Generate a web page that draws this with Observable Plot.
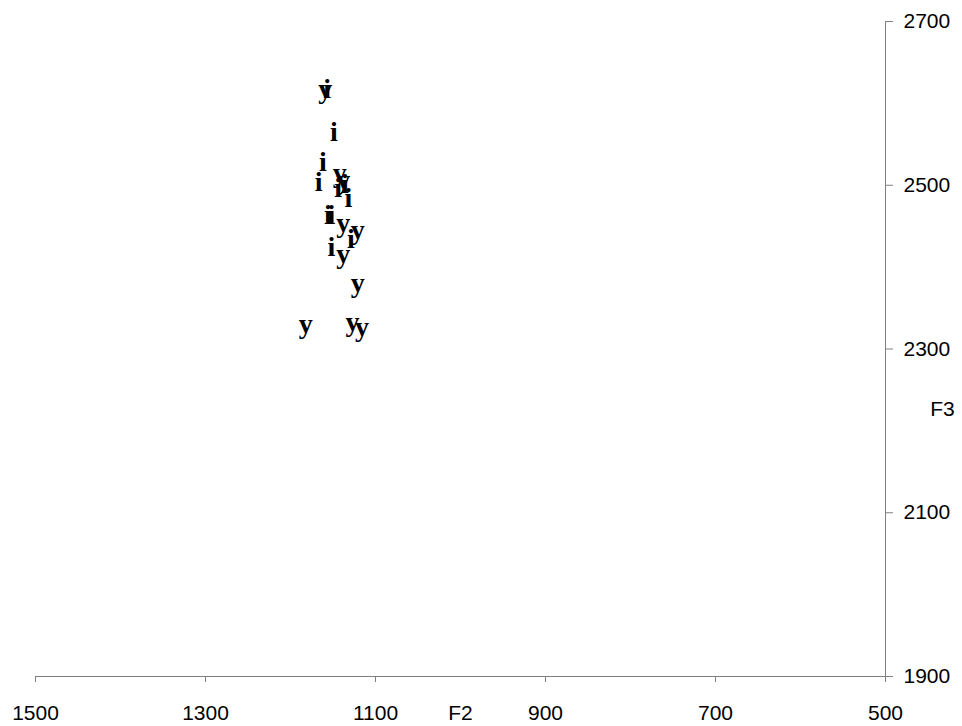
<!DOCTYPE html>
<html>
<head>
<meta charset="utf-8">
<script src="https://cdn.jsdelivr.net/npm/d3@7"></script>
<script src="https://cdn.jsdelivr.net/npm/@observablehq/plot@0.6"></script>
<style>
  html, body { margin: 0; padding: 0; background: #ffffff; }
</style>
</head>
<body>
<div id="chart"></div>
<script>
// Vowel tokens (label drawn at each point)
const vowels = ["y","i","i","i","i","y","y","i","i","i","i","i","y","y","i","i","y","y","y","y","y"];
// F2 (Hz)
const f2 = [1159,1157,1149,1162,1167,1142,1138,1144,1136,1132,1156,1152,1138,1121,1129,1152,1138,1121,1182,1127,1116];
// F3 (Hz)
const f3 = [2617,2618,2565,2528,2504,2515,2506,2496,2502,2485,2464,2464,2454,2445,2434,2424,2416,2380,2331,2333,2327];

const xTicks = [1500, 1300, 1100, 900, 700, 500];
const yTicks = [1900, 2100, 2300, 2500, 2700];
const xTitle = ["F2"];
const yTitle = ["F3"];

const data = vowels.map((v, i) => ({vowel: v, F2: f2[i], F3: f3[i]}));

const axisColor = "#808080";

const chart = Plot.plot({
  width: 962,
  height: 726,
  marginLeft: 35,
  marginRight: 77,
  marginTop: 21,
  marginBottom: 50,
  style: {fontFamily: "'Liberation Sans', Arial, sans-serif", fontSize: "21px", background: "#ffffff", color: "#000000"},
  x: {domain: [1500, 500]},
  y: {domain: [1900, 2700]},
  marks: [
    Plot.frame({anchor: "bottom", stroke: axisColor}),
    Plot.frame({anchor: "right", stroke: axisColor}),
    Plot.axisX(xTicks, {anchor: "bottom", tickSize: 6, tickPadding: 23, tickFormat: d => String(d), stroke: axisColor, fill: "#000", fontSize: 21, label: null}),
    Plot.axisY(yTicks, {anchor: "right", tickSize: 7, tickPadding: 11, tickFormat: d => String(d), stroke: axisColor, fill: "#000", fontSize: 21, label: null}),
    Plot.text(data, {x: "F2", y: "F3", text: "vowel", fontFamily: "'Liberation Serif', 'Times New Roman', serif", fontWeight: "bold", fontSize: 28, fill: "#000"}),
    Plot.text(xTitle, {text: d => d, frameAnchor: "bottom", textAnchor: "middle", lineAnchor: "middle", dy: 37, fontSize: 21, fill: "#000"}),
    Plot.text(yTitle, {text: d => d, frameAnchor: "right", textAnchor: "middle", lineAnchor: "middle", dx: 57, dy: 60, fontSize: 21, fill: "#000"})
  ]
});

document.getElementById("chart").append(chart);
</script>
</body>
</html>
